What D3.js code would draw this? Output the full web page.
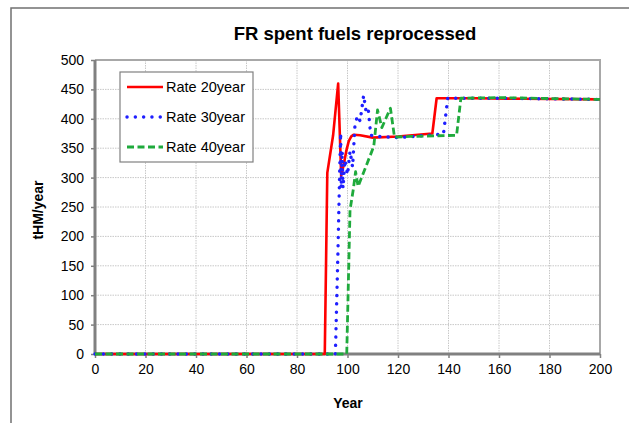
<!DOCTYPE html>
<html>
<head>
<meta charset="utf-8">
<script src="https://cdn.jsdelivr.net/npm/d3@7"></script>
<style>
  html, body { margin: 0; padding: 0; background: #fff; }
  svg { display: block; font-family: "Liberation Sans", Arial, sans-serif; }
</style>
</head>
<body>
<svg id="chart" width="629" height="423"></svg>
<script>
// ---- data ----
const title = "FR spent fuels reprocessed";
const xLabel = "Year";
const yLabel = "tHM/year";
const xTicks = [0, 20, 40, 60, 80, 100, 120, 140, 160, 180, 200];
const yTicks = [0, 50, 100, 150, 200, 250, 300, 350, 400, 450, 500];
const seriesNames = ["Rate 20year", "Rate 30year", "Rate 40year"];

const rate20 = [[0,0],[91,0],[92,308],[94.3,372],[96.3,460],[97.5,303],[98.5,322],[99.5,345],[100.5,362],[101.5,370],[102.5,373],[105,372],[110,368],[120,370],[133.6,375],[135.3,435],[150,435],[170,434],[200,433]];
const rate30 = [[0,0],[95.2,0],[96.2,170],[97,330],[97.3,376],[97.5,282],[97.9,345],[98.2,282],[99,330],[100,305],[101,345],[102,318],[103,392],[104,405],[105,396],[106.4,440],[107.5,408],[108.3,413],[109.2,372],[112,370],[120,368],[138,374],[139.7,435],[160,435],[200,433]];
const rate40 = [[0,0],[99.7,0],[101,245],[102.3,280],[103.2,310],[104.2,285],[110.4,353],[111.9,415],[113.6,385],[117,418],[118.6,369],[125,370],[143.2,372],[144.9,435],[160,436],[200,433]];

// ---- layout ----
const svg = d3.select("#chart");
const plot = { left: 95, right: 600, top: 60, bottom: 354 };
const x = d3.scaleLinear().domain([0, 200]).range([plot.left, plot.right]);
const y = d3.scaleLinear().domain([0, 500]).range([plot.bottom, plot.top]);

// outer chart border
svg.append("rect").attr("x", 11).attr("y", 8).attr("width", 640).attr("height", 440)
  .attr("fill", "none").attr("stroke", "#707070").attr("stroke-width", 1.5);

// title
svg.append("text").attr("x", 355).attr("y", 40).attr("text-anchor", "middle")
  .attr("font-size", 18.5).attr("font-weight", "bold").attr("fill", "#000").text(title);

// gridlines
const grid = svg.append("g");
grid.selectAll("line.h").data(yTicks.filter(d => d > 0)).join("line")
  .attr("x1", plot.left).attr("x2", plot.right)
  .attr("y1", d => y(d)).attr("y2", d => y(d))
  .attr("stroke", "#c8c8c8").attr("stroke-width", 1).attr("stroke-dasharray", "1.5 1");
grid.selectAll("line.v").data(xTicks.filter(d => d > 0 && d < 200)).join("line")
  .attr("y1", plot.top).attr("y2", plot.bottom)
  .attr("x1", d => x(d)).attr("x2", d => x(d))
  .attr("stroke", "#c8c8c8").attr("stroke-width", 1).attr("stroke-dasharray", "1.5 1");

// plot area border (top/right)
svg.append("path")
  .attr("d", `M${plot.left},${plot.top}H${plot.right}V${plot.bottom}`)
  .attr("fill", "none").attr("stroke", "#a8a8a8").attr("stroke-width", 2);

// axes
const xAxis = svg.append("g").attr("transform", `translate(0,${plot.bottom})`)
  .call(d3.axisBottom(x).tickValues(xTicks).tickSize(4).tickPadding(6).tickFormat(d3.format("d")));
const yAxis = svg.append("g").attr("transform", `translate(${plot.left},0)`)
  .call(d3.axisLeft(y).tickValues(yTicks).tickSize(4).tickPadding(7).tickFormat(d3.format("d")));
[xAxis, yAxis].forEach(a => {
  a.select(".domain").attr("stroke", "#808080").attr("stroke-width", 3);
  a.selectAll(".tick line").attr("stroke", "#808080").attr("stroke-width", 1.5);
  a.selectAll(".tick text").attr("font-size", 14).attr("fill", "#000")
    .attr("font-family", "Liberation Sans, Arial, sans-serif");
});
xAxis.select(".domain").attr("d", `M${plot.left},0H${plot.right}`);
yAxis.select(".domain").attr("d", `M0,${plot.bottom}V${plot.top}`);

// axis titles
svg.append("text").attr("x", 348).attr("y", 408).attr("text-anchor", "middle")
  .attr("font-size", 14).attr("font-weight", "bold").text(xLabel);
svg.append("text").attr("transform", "translate(43,210) rotate(-90)").attr("text-anchor", "middle")
  .attr("font-size", 14).attr("font-weight", "bold").text(yLabel);

// series
const line = d3.line().x(d => x(d[0])).y(d => y(d[1]));
const styles = [
  { color: "#ff0000", width: 2.6, dash: null, cap: "butt" },
  { color: "#1f1fff", width: 3.4, dash: "0.1 8.2", cap: "round" },
  { color: "#1faa3c", width: 2.8, dash: "7 3.5", cap: "butt" }
];
const data = [rate20, rate30, rate40];
data.forEach((s, i) => {
  svg.append("path").datum(s).attr("d", line)
    .attr("fill", "none").attr("stroke", styles[i].color)
    .attr("stroke-width", styles[i].width)
    .attr("stroke-dasharray", styles[i].dash)
    .attr("stroke-linecap", styles[i].cap)
    .attr("stroke-linejoin", "round");
});

// legend
const lg = svg.append("g");
lg.append("rect").attr("x", 120).attr("y", 72).attr("width", 133).attr("height", 90)
  .attr("fill", "#fff").attr("stroke", "#808080").attr("stroke-width", 1.2);
seriesNames.forEach((n, i) => {
  const yy = 87 + i * 30;
  lg.append("line").attr("x1", 127).attr("x2", 163).attr("y1", yy).attr("y2", yy)
    .attr("stroke", styles[i].color).attr("stroke-width", styles[i].width)
    .attr("stroke-dasharray", styles[i].dash).attr("stroke-linecap", styles[i].cap);
  lg.append("text").attr("x", 166).attr("y", yy + 5).attr("font-size", 14.5).text(n);
});
</script>
</body>
</html>
